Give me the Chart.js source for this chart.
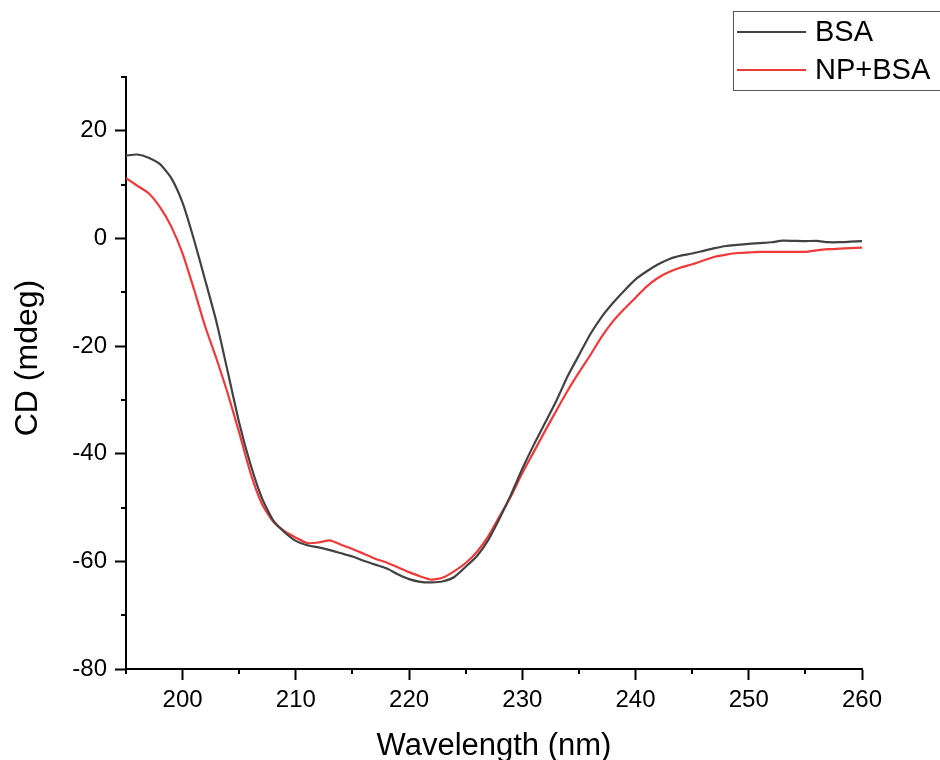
<!DOCTYPE html>
<html>
<head>
<meta charset="utf-8">
<script src="https://cdn.jsdelivr.net/npm/chart.js@4.4.1/dist/chart.umd.min.js"></script>
<style>
  html, body { margin: 0; padding: 0; background: #fff; }
  canvas { display: block; }
</style>
</head>
<body>
<canvas id="myChart" width="940" height="760"></canvas>
<script>
// wavelength (nm)
var wavelengths = [195, 196, 197, 198, 199, 200, 201, 202, 203, 204,
  205, 206, 207, 208, 209, 210, 211, 212, 213, 214,
  215, 216, 217, 218, 219, 220, 221, 222, 223, 224,
  225, 226, 227, 228, 229, 230, 231, 232, 233, 234,
  235, 236, 237, 238, 239, 240, 241, 242, 243, 244,
  245, 246, 247, 248, 249, 250, 251, 252, 253, 254,
  255, 256, 257, 258, 259, 260];

// CD (mdeg)
var bsa = [15.4, 15.6, 15.0, 13.8, 11.2, 6.6, -0.2, -7.8, -15.6, -24.9,
  -34.3, -42.0, -48.2, -52.4, -54.6, -56.2, -57.0, -57.4, -57.9, -58.5,
  -59.1, -59.9, -60.6, -61.3, -62.4, -63.3, -63.8, -63.9, -63.7, -62.9,
  -61.0, -59.0, -56.0, -52.0, -47.6, -42.8, -38.4, -34.3, -30.2, -25.6,
  -21.7, -17.8, -14.6, -12.0, -9.7, -7.6, -6.1, -4.8, -3.8, -3.2,
  -2.8, -2.3, -1.8, -1.4, -1.2, -1.0, -0.85, -0.7, -0.4, -0.45,
  -0.5, -0.45, -0.7, -0.7, -0.6, -0.5];

var npBsa = [11.2, 9.8, 8.4, 5.8, 2.2, -2.8, -9.4, -16.4, -22.4, -28.9,
  -36.1, -43.6, -49.3, -52.6, -54.4, -55.6, -56.6, -56.5, -56.1, -56.9,
  -57.7, -58.6, -59.5, -60.2, -61.1, -62.0, -62.8, -63.4, -63.0, -61.8,
  -60.3, -58.2, -55.3, -51.6, -47.9, -43.6, -39.7, -35.8, -32.0, -28.3,
  -24.9, -21.7, -18.3, -15.4, -13.1, -11.0, -8.9, -7.3, -6.2, -5.4,
  -4.8, -4.1, -3.4, -3.0, -2.7, -2.6, -2.5, -2.5, -2.5, -2.5,
  -2.5, -2.2, -2.0, -1.9, -1.8, -1.7];

var seriesNames = ['BSA', 'NP+BSA'];
var seriesColors = ['#424242', '#f03a3a'];

function toPoints(ys) {
  return wavelengths.map(function (x, i) { return { x: x, y: ys[i] }; });
}

var FONT = '"Liberation Sans", Arial, sans-serif';

// minor ticks, axis titles and the boxed legend
var extras = {
  id: 'extras',
  afterDraw: function (chart) {
    var ctx = chart.ctx;
    var xs = chart.scales.x, ys = chart.scales.y;
    ctx.save();
    ctx.strokeStyle = '#000';
    ctx.lineWidth = 2;
    ctx.beginPath();
    xs.ticks.forEach(function (t) {
      if (t.value % 10 !== 0) {
        var px = Math.round(xs.getPixelForValue(t.value));
        ctx.moveTo(px, xs.top);
        ctx.lineTo(px, xs.top + 5);
      }
    });
    ys.ticks.forEach(function (t) {
      if (t.value % 20 !== 0) {
        var py = Math.round(ys.getPixelForValue(t.value));
        ctx.moveTo(ys.right, py);
        ctx.lineTo(ys.right - 5, py);
      }
    });
    ctx.stroke();

    // axis titles
    ctx.fillStyle = '#000';
    ctx.textAlign = 'center';
    ctx.textBaseline = 'middle';
    ctx.font = '31px ' + FONT;
    ctx.fillText('Wavelength (nm)', (xs.left + xs.right) / 2, 746);
    ctx.save();
    ctx.translate(28, 358);
    ctx.rotate(-Math.PI / 2);
    ctx.font = '32px ' + FONT;
    ctx.fillText('CD (mdeg)', 0, 0);
    ctx.restore();

    // legend
    ctx.strokeStyle = '#555';
    ctx.lineWidth = 1;
    ctx.strokeRect(733.5, 11.5, 220, 79);
    ctx.textAlign = 'left';
    ctx.font = '29px ' + FONT;
    chart.data.datasets.forEach(function (ds, i) {
      var ly = 32 + i * 38;
      ctx.strokeStyle = ds.borderColor;
      ctx.lineWidth = 2;
      ctx.beginPath();
      ctx.moveTo(737, ly);
      ctx.lineTo(806, ly);
      ctx.stroke();
      ctx.fillStyle = '#000';
      ctx.fillText(ds.label, 815, ly + 1);
    });
    ctx.restore();
  }
};

var ctx = document.getElementById('myChart').getContext('2d');
var myChart = new Chart(ctx, {
  type: 'line',
  data: {
    datasets: [
      {
        label: seriesNames[0],
        data: toPoints(bsa),
        borderColor: seriesColors[0],
        borderWidth: 2.2,
        pointRadius: 0,
        tension: 0.2,
        fill: false
      },
      {
        label: seriesNames[1],
        data: toPoints(npBsa),
        borderColor: seriesColors[1],
        borderWidth: 2.2,
        pointRadius: 0,
        tension: 0.2,
        fill: false
      }
    ]
  },
  options: {
    responsive: false,
    animation: false,
    layout: { padding: { top: 77, right: 78, left: 0, bottom: 0 } },
    plugins: { legend: { display: false }, tooltip: { enabled: false } },
    scales: {
      x: {
        type: 'linear',
        min: 195,
        max: 260,
        afterFit: function (s) { s.height = 91; },
        border: { display: true, color: '#000', width: 2 },
        grid: {
          drawOnChartArea: false,
          drawTicks: true,
          tickLength: 11,
          tickWidth: 2,
          tickColor: function (c) { return c.tick && c.tick.value % 10 === 0 ? '#000' : 'rgba(0,0,0,0)'; }
        },
        ticks: {
          stepSize: 5,
          autoSkip: false,
          maxRotation: 0,
          padding: 6,
          color: '#000',
          font: { family: FONT, size: 24 },
          callback: function (v) { return v % 10 === 0 ? v : ''; }
        }
      },
      y: {
        min: -80,
        max: 30,
        afterFit: function (s) { s.width = 126; },
        border: { display: true, color: '#000', width: 2 },
        grid: {
          drawOnChartArea: false,
          drawTicks: true,
          tickLength: 11,
          tickWidth: 2,
          tickColor: function (c) { return c.tick && c.tick.value % 20 === 0 ? '#000' : 'rgba(0,0,0,0)'; }
        },
        ticks: {
          stepSize: 10,
          autoSkip: false,
          padding: 8,
          color: '#000',
          font: { family: FONT, size: 24 },
          callback: function (v) { return v % 20 === 0 ? v : ''; }
        }
      }
    }
  },
  plugins: [extras]
});
</script>
</body>
</html>
